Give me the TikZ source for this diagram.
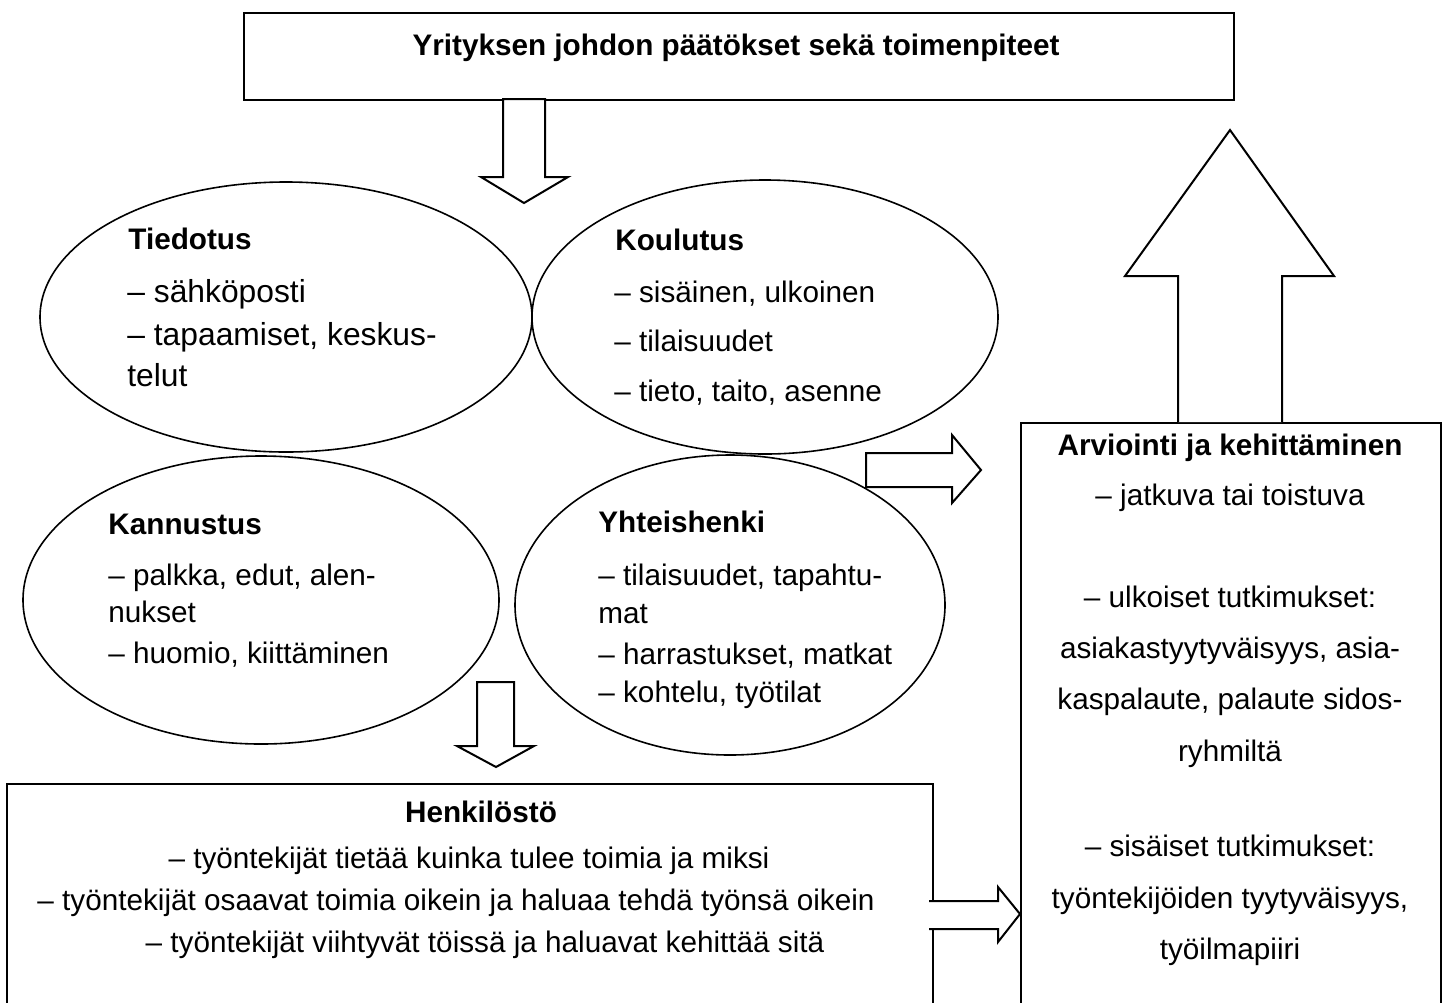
\documentclass[tikz,border=0pt]{standalone}
\usepackage{fontspec}
\setmainfont{Liberation Sans}
\usetikzlibrary{shapes.geometric}
\newcommand{\fsbody}{\fontsize{14.85}{18}\selectfont}
\newcommand{\fsbig}{\fontsize{15.9}{19}\selectfont}
\begin{document}
\begin{tikzpicture}[x=0.5pt,y=-0.5pt,
  framebox/.style={draw, line width=1pt, fill=white, inner sep=0, anchor=north west},
  oval/.style={ellipse, draw, line width=0.8pt, inner sep=0},
  blockarrow/.style={draw, fill=white, line width=1pt, line join=miter},
  txt/.style={inner sep=0, font=\fsbody},
  bigtxt/.style={inner sep=0, font=\fsbig},
  headtxt/.style={inner sep=0, font=\fsbody\bfseries}]
\useasboundingbox (0,0) rectangle (1445,1002);

% boxes
\node[framebox, minimum width=495pt, minimum height=43.5pt] (top) at (243,12) {};
\node[framebox, minimum width=463pt, minimum height=125pt] (henk) at (6,783) {};
\node[framebox, minimum width=210pt, minimum height=310pt] (arv) at (1020,422) {};

% ellipses
\node[oval, minimum width=246pt, minimum height=135pt] (tied) at (286,317) {};
\node[oval, minimum width=233pt, minimum height=137pt] (koul) at (765,317) {};
\node[oval, minimum width=238pt, minimum height=144pt] (kann) at (261,600) {};
\node[oval, minimum width=215pt, minimum height=150pt] (yht) at (730,605) {};

% block arrows
\draw[blockarrow] (503,99) -- (503,177) -- (481,177) -- (524,203) -- (568,177) -- (545,177) -- (545,99) -- cycle;
\draw[blockarrow] (1178,422) -- (1178,276) -- (1125,276) -- (1230,130) -- (1334,276) -- (1282,276) -- (1282,422);
\draw[blockarrow] (477,682) -- (477,746) -- (457,746) -- (496,767) -- (534,746) -- (514,746) -- (514,682) -- cycle;
\draw[blockarrow] (866,453) -- (952,453) -- (952,435) -- (981,470) -- (952,503) -- (952,487) -- (866,487) -- cycle;
\draw[blockarrow] (929,901) -- (998,901) -- (998,887) -- (1020,914) -- (998,942) -- (998,929) -- (929,929);

% title
\node[headtxt, anchor=base] (ttl) at (736,55) {Yrityksen johdon päätökset sekä toimenpiteet};

% Tiedotus
\node[headtxt, anchor=base west] (t0) at (128,249) {Tiedotus};
\node[bigtxt, anchor=base west] (t1) at (127,302) {– sähköposti};
\node[bigtxt, anchor=base west] (t2) at (127,345) {– tapaamiset, keskus-};
\node[bigtxt, anchor=base west] (t3) at (127,386) {telut};

% Koulutus
\node[headtxt, anchor=base west] (k0) at (615,250) {Koulutus};
\node[txt, anchor=base west] (k1) at (614,302) {– sisäinen, ulkoinen};
\node[txt, anchor=base west] (k2) at (614,351) {– tilaisuudet};
\node[txt, anchor=base west] (k3) at (614,401) {– tieto, taito, asenne};

% Kannustus
\node[headtxt, anchor=base west] (n0) at (108,534) {Kannustus};
\node[txt, anchor=base west] (n1) at (108,585) {– palkka, edut, alen-};
\node[txt, anchor=base west] (n2) at (108,622) {nukset};
\node[txt, anchor=base west] (n3) at (108,663) {– huomio, kiittäminen};

% Yhteishenki
\node[headtxt, anchor=base west] (y0) at (598,532) {Yhteishenki};
\node[txt, anchor=base west] (y1) at (598,585) {– tilaisuudet, tapahtu-};
\node[txt, anchor=base west] (y2) at (598,623) {mat};
\node[txt, anchor=base west] (y3) at (598,664) {– harrastukset, matkat};
\node[txt, anchor=base west] (y4) at (598,702) {– kohtelu, työtilat};

% Henkilöstö
\node[headtxt, anchor=base] (h0) at (481,822) {Henkilöstö};
\node[txt, anchor=base] (h1) at (469,868) {– työntekijät tietää kuinka tulee toimia ja miksi};
\node[txt, anchor=base] (h2) at (456,910) {– työntekijät osaavat toimia oikein ja haluaa tehdä työnsä oikein};
\node[txt, anchor=base] (h3) at (485,952) {– työntekijät viihtyvät töissä ja haluavat kehittää sitä};

% Arviointi
\node[headtxt, anchor=base] (a0) at (1230,455) {Arviointi ja kehittäminen};
\node[txt, anchor=base] (a1) at (1230,505) {– jatkuva tai toistuva};
\node[txt, anchor=base] (a2) at (1230,607) {– ulkoiset tutkimukset:};
\node[txt, anchor=base] (a3) at (1230,658) {asiakastyytyväisyys, asia-};
\node[txt, anchor=base] (a4) at (1230,709) {kaspalaute, palaute sidos-};
\node[txt, anchor=base] (a5) at (1230,761) {ryhmiltä};
\node[txt, anchor=base] (a6) at (1230,856) {– sisäiset tutkimukset:};
\node[txt, anchor=base] (a7) at (1230,908) {työntekijöiden tyytyväisyys,};
\node[txt, anchor=base] (a8) at (1230,959) {työilmapiiri};
\end{tikzpicture}
\end{document}
